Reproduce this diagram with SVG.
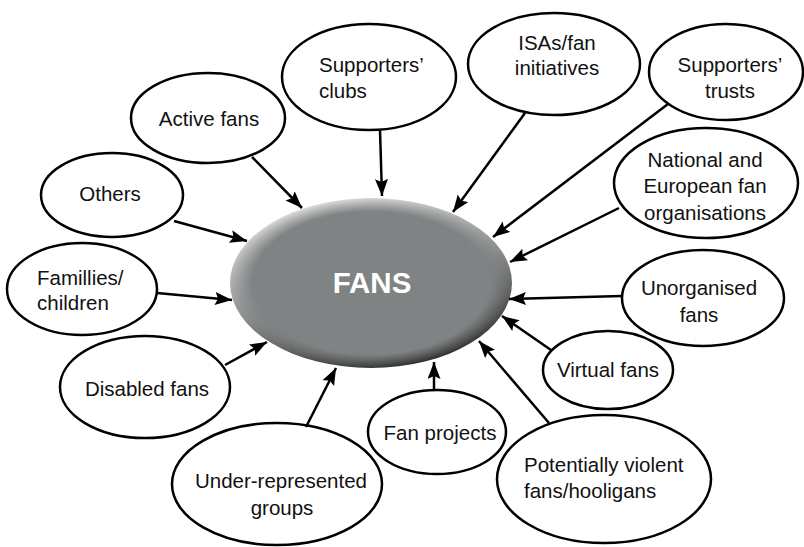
<svg xmlns="http://www.w3.org/2000/svg" width="804" height="547" viewBox="0 0 804 547">
<style>
.n{fill:#fff;stroke:#000;stroke-width:2.5}
.t{font-family:"Liberation Sans",Arial,Helvetica,sans-serif;font-size:20.5px;fill:#111}
.c{text-anchor:middle}
.e{stroke:#000;stroke-width:2.5;fill:none;marker-end:url(#ah)}
</style>
<defs>
<marker id="ah" markerUnits="userSpaceOnUse" markerWidth="20" markerHeight="16" refX="17" refY="6.5" orient="auto">
<path d="M0,0 L17,6.5 L0,13 L3,6.5 z" fill="#000"/>
</marker>
<linearGradient id="bev" x1="0.25" y1="0" x2="0.7" y2="1">
<stop offset="0" stop-color="#e6e6e6"/>
<stop offset="0.45" stop-color="#9a9c9d"/>
<stop offset="1" stop-color="#262626"/>
</linearGradient>
<radialGradient id="body" cx="0.5" cy="0.5" r="0.5">
<stop offset="0" stop-color="#808384" stop-opacity="1"/>
<stop offset="0.84" stop-color="#808384" stop-opacity="1"/>
<stop offset="1" stop-color="#808384" stop-opacity="0"/>
</radialGradient>
</defs>
<g id="fans">
<ellipse cx="371" cy="283" rx="141" ry="85" fill="url(#bev)"/>
<ellipse cx="371" cy="283" rx="141" ry="85" fill="url(#body)"/>
<text x="372" y="293" text-anchor="middle" style="font-family:'Liberation Sans',Arial,Helvetica,sans-serif;font-size:29.5px;font-weight:bold;fill:#fff">FANS</text>
</g>
<g id="active-fans"><ellipse class="n" cx="208" cy="118" rx="77" ry="45"/><text class="t c" x="209" y="126">Active fans</text></g>
<g id="others"><ellipse class="n" cx="112" cy="195" rx="71" ry="42"/><text class="t c" x="110" y="201">Others</text></g>
<g id="supporters-clubs"><ellipse class="n" cx="369" cy="77" rx="87" ry="53"/><text class="t" x="319" y="72">Supporters’</text><text class="t" x="319" y="98">clubs</text></g>
<g id="isas"><ellipse class="n" cx="554" cy="64" rx="86" ry="51"/><text class="t c" x="557" y="50">ISAs/fan</text><text class="t c" x="557" y="75">initiatives</text></g>
<g id="supporters-trusts"><ellipse class="n" cx="726" cy="72" rx="77" ry="48"/><text class="t c" x="730" y="72">Supporters’</text><text class="t c" x="730" y="98">trusts</text></g>
<g id="national"><ellipse class="n" cx="706" cy="183" rx="92" ry="55"/><text class="t c" x="705" y="167">National and</text><text class="t c" x="705" y="193">European fan</text><text class="t c" x="705" y="220">organisations</text></g>
<g id="unorganised"><ellipse class="n" cx="703" cy="298" rx="81" ry="48"/><text class="t c" x="699" y="295">Unorganised</text><text class="t c" x="699" y="322">fans</text></g>
<g id="virtual"><ellipse class="n" cx="608" cy="370" rx="65" ry="39"/><text class="t c" x="608" y="377">Virtual fans</text></g>
<g id="violent"><ellipse class="n" cx="604" cy="479" rx="107" ry="64"/><text class="t" x="524" y="472">Potentially violent</text><text class="t" x="524" y="498">fans/hooligans</text></g>
<g id="fan-projects"><ellipse class="n" cx="437" cy="432" rx="69" ry="42"/><text class="t c" x="440" y="440">Fan projects</text></g>
<g id="under-represented"><ellipse class="n" cx="277" cy="484" rx="105" ry="61"/><text class="t c" x="281" y="488">Under-represented</text><text class="t c" x="282" y="515">groups</text></g>
<g id="disabled"><ellipse class="n" cx="145" cy="387" rx="85" ry="51"/><text class="t c" x="147" y="396">Disabled fans</text></g>
<g id="families"><ellipse class="n" cx="82" cy="289" rx="75" ry="46"/><text class="t" x="37" y="285">Famillies/</text><text class="t" x="37" y="310">children</text></g>
<g id="connectors">
<line class="e" x1="252" y1="157" x2="302" y2="208"/>
<line class="e" x1="380" y1="130" x2="382" y2="196"/>
<line class="e" x1="525" y1="113" x2="453" y2="212"/>
<line class="e" x1="668" y1="104" x2="493" y2="237"/>
<line class="e" x1="619" y1="208" x2="510" y2="262"/>
<line class="e" x1="622" y1="296" x2="509" y2="299"/>
<line class="e" x1="551" y1="350" x2="502" y2="316"/>
<line class="e" x1="549" y1="423" x2="479" y2="341"/>
<line class="e" x1="434" y1="390" x2="434" y2="362"/>
<line class="e" x1="306" y1="427" x2="336" y2="368"/>
<line class="e" x1="225" y1="365" x2="267" y2="342"/>
<line class="e" x1="157" y1="293" x2="232" y2="300"/>
<line class="e" x1="174" y1="221" x2="247" y2="241"/>
</g>
</svg>
